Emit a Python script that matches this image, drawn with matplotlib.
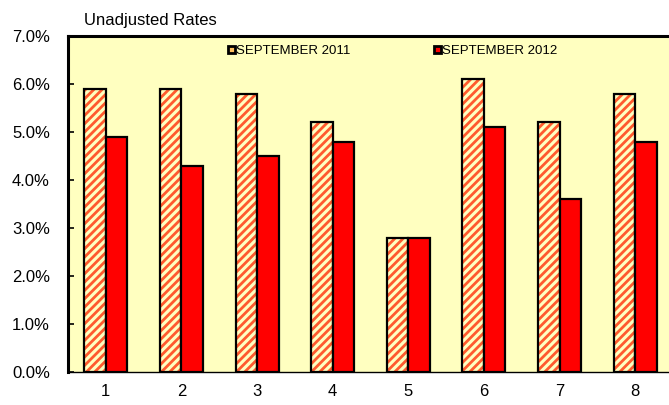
import matplotlib
matplotlib.use("Agg")
import matplotlib.pyplot as plt
import numpy as np
from matplotlib.patches import Patch

plt.rcParams["font.family"] = ["Liberation Sans", "DejaVu Sans"]
plt.rcParams["hatch.linewidth"] = 2.0

categories = ["1", "2", "3", "4", "5", "6", "7", "8"]
sep_2011 = [5.9, 5.9, 5.8, 5.2, 2.8, 6.1, 5.2, 5.8]
sep_2012 = [4.9, 4.3, 4.5, 4.8, 2.8, 5.1, 3.6, 4.8]
series_labels = ["SEPTEMBER 2011", "SEPTEMBER 2012"]
yticks = [0, 1, 2, 3, 4, 5, 6, 7]

BG = "#FFFFC0"
HATCH = "#FF5A2E"
RED = "#FF0000"

fig = plt.figure(figsize=(6.69, 4.05), dpi=100)
ax = fig.add_axes([68 / 669, 33 / 405, (673 - 68) / 669, (372 - 36) / 405])
ax.set_facecolor(BG)

x = np.arange(1, len(categories) + 1)
w = 0.285

# hatched 2011 bars: stripes first, then black outline on top
ax.bar(x - w / 2, sep_2011, w, color=BG, edgecolor=HATCH, hatch="////", linewidth=0, zorder=2)
ax.bar(x - w / 2, sep_2011, w, fill=False, edgecolor="black", linewidth=1.6, zorder=3)
ax.bar(x + w / 2, sep_2012, w, color=RED, edgecolor="black", linewidth=1.6, zorder=3)

ax.set_xlim(0.5, 8.5)
ax.set_ylim(0, 7)
ax.set_yticks(yticks)
ax.set_yticklabels([f"{v:.1f}%" for v in yticks], fontsize=12)
ax.set_xticks(x)
ax.set_xticklabels(categories, fontsize=12)
ax.tick_params(axis="y", direction="in", length=4, width=1.2, pad=13)
ax.tick_params(axis="x", length=0, pad=9)

ax.spines["left"].set_linewidth(2.2)
ax.spines["top"].set_linewidth(2.2)
ax.spines["bottom"].set_linewidth(1.0)
ax.spines["right"].set_visible(False)

handles = [
    Patch(facecolor="#FFC060", edgecolor="black", linewidth=2.0, label=series_labels[0]),
    Patch(facecolor=RED, edgecolor="black", linewidth=2.0, label=series_labels[1]),
]
leg = fig.legend(handles=handles, loc="center left", bbox_to_anchor=(223 / 669, 1 - 51 / 405),
                 ncol=2, frameon=False, fontsize=9.5, handlelength=0.5, handleheight=0.5,
                 handletextpad=0.12, columnspacing=6.3, borderaxespad=0)

fig.text(84 / 669, 1 - 20 / 405, "Unadjusted Rates", fontsize=12, va="center", ha="left")

fig.savefig("out.png", dpi=100)
